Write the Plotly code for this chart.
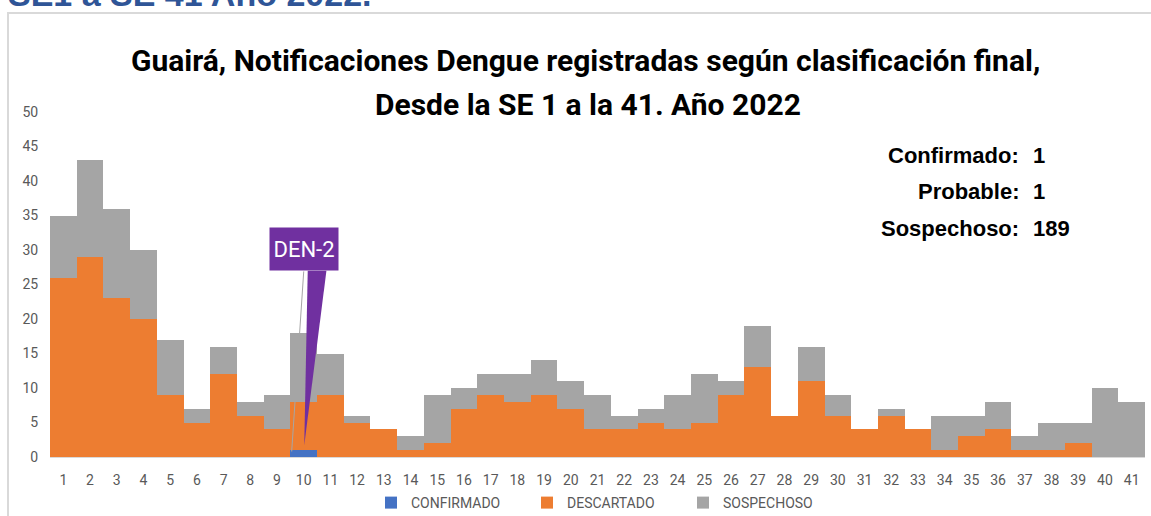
import plotly.graph_objects as go

weeks = list(range(1, 42))
week_labels = [str(w) for w in weeks]
confirmado = [0]*9 + [1] + [0]*31
descartado = [26, 29, 23, 20, 9, 5, 12, 6, 4, 7, 9, 5, 4, 1, 2, 7, 9, 8, 9, 7,
              4, 4, 5, 4, 5, 9, 13, 6, 11, 6, 4, 6, 4, 1, 3, 4, 1, 1, 2, 0, 0]
sospechoso = [9, 14, 13, 10, 8, 2, 4, 2, 5, 10, 6, 1, 0, 2, 7, 3, 3, 4, 5, 4,
              5, 2, 2, 5, 7, 2, 6, 0, 5, 3, 0, 1, 0, 5, 3, 4, 2, 4, 3, 10, 8]
series_names = ["CONFIRMADO", "DESCARTADO", "SOSPECHOSO"]
series_colors = ["#4472C4", "#ED7D31", "#A5A5A5"]
summary_labels = ["Confirmado:", "Probable:", "Sospechoso:"]
summary_values = ["1", "1", "189"]

W, H = 1151, 516
L, R, T, B = 50, 6, 112, 59
PW, PH = W - L - R, H - T - B

def px(x):  # pixel x -> paper
    return (x - L) / PW

def py(y):  # pixel y -> paper
    return (H - B - y) / PH

TICKFONT = "Roboto, sans-serif"

fig = go.Figure()
for name, vals, col in zip(series_names, [confirmado, descartado, sospechoso], series_colors):
    fig.add_trace(go.Bar(x=weeks, y=vals, name=name, marker=dict(color=col, line=dict(width=0))))

fig.update_layout(
    width=W, height=H, barmode="stack", bargap=0,
    margin=dict(l=L, r=R, t=T, b=B, autoexpand=False),
    paper_bgcolor="white", plot_bgcolor="white",
    showlegend=True,
    legend=dict(orientation="h", x=px(371), xanchor="left", y=py(503), yanchor="middle",
                font=dict(family=TICKFONT, size=14, color="#595959"),
                entrywidth=111, itemwidth=30, traceorder="normal",
                bgcolor="rgba(0,0,0,0)"),
    xaxis=dict(range=[0.5, 41.5], tickmode="array", tickvals=weeks, ticktext=week_labels,
               showgrid=False, zeroline=False, showline=True, linecolor="#D9D9D9", linewidth=1,
               ticks="outside", ticklen=10, tickcolor="rgba(0,0,0,0)",
               tickfont=dict(family=TICKFONT, size=14, color="#595959")),
    yaxis=dict(range=[0, 50], tickmode="linear", dtick=5, showgrid=False, zeroline=False,
               showline=False, ticks="outside", ticklen=8, tickcolor="rgba(0,0,0,0)",
               tickfont=dict(family=TICKFONT, size=14, color="#595959")),
)

shapes = []
# chart frame (light gray), partially out of view
shapes.append(dict(type="rect", xref="paper", yref="paper",
                   x0=px(8), x1=px(1160), y0=py(530), y1=py(13),
                   line=dict(color="#D9D9D9", width=2), fillcolor="rgba(0,0,0,0)", layer="below"))
# leader line of callout
shapes.append(dict(type="line", xref="x", yref="y", x0=10.0, y0=26.9, x1=9.55, y1=0.8,
                   line=dict(color="#A6A6A6", width=1)))
# purple wedge of callout
shapes.append(dict(type="path", xref="x", yref="y",
                   path="M 10.15 27 L 10.85 27 L 10.02 1.7 Z",
                   fillcolor="#7030A0", line=dict(width=0)))
fig.update_layout(shapes=shapes)

annotations = []
# cut-off heading from page above
annotations.append(dict(text="<b>SE1 a SE 41 Año 2022.</b>", xref="paper", yref="paper",
                        x=px(6), xanchor="left", y=py(15), yanchor="bottom", showarrow=False,
                        font=dict(family="Liberation Sans, Arial, sans-serif", size=34, color="#2F5597")))
# chart title
annotations.append(dict(text="<b>Guairá, Notificaciones Dengue registradas según clasificación final,</b>",
                        xref="paper", yref="paper", x=px(585), y=py(61), xanchor="center", yanchor="middle",
                        showarrow=False, font=dict(family=TICKFONT, size=30, color="black")))
annotations.append(dict(text="<b>Desde la SE 1 a la 41. Año 2022</b>",
                        xref="paper", yref="paper", x=px(588), y=py(104), xanchor="center", yanchor="middle",
                        showarrow=False, font=dict(family=TICKFONT, size=30, color="black")))
# DEN-2 box
annotations.append(dict(text="DEN-2", xref="x", yref="y", x=10.0, y=30.1, xanchor="center", yanchor="middle",
                        showarrow=False, bgcolor="#7030A0", width=66, height=40,
                        font=dict(family=TICKFONT, size=22, color="white")))
# summary text
for i, (lab, val) in enumerate(zip(summary_labels, summary_values)):
    yy = 155 + i * 36.5
    annotations.append(dict(text="<b>" + lab + "</b>", xref="paper", yref="paper", x=px(1021), y=py(yy),
                            xanchor="right", yanchor="middle", showarrow=False,
                            font=dict(family="Liberation Sans, Arial, sans-serif", size=22, color="black")))
    annotations.append(dict(text="<b>" + val + "</b>", xref="paper", yref="paper", x=px(1031), y=py(yy),
                            xanchor="left", yanchor="middle", showarrow=False,
                            font=dict(family="Liberation Sans, Arial, sans-serif", size=22, color="black")))
fig.update_layout(annotations=annotations)

fig.write_html("out.html", config={"displayModeBar": False},
               post_script="document.body.style.margin='0';document.body.style.overflow='hidden';")
